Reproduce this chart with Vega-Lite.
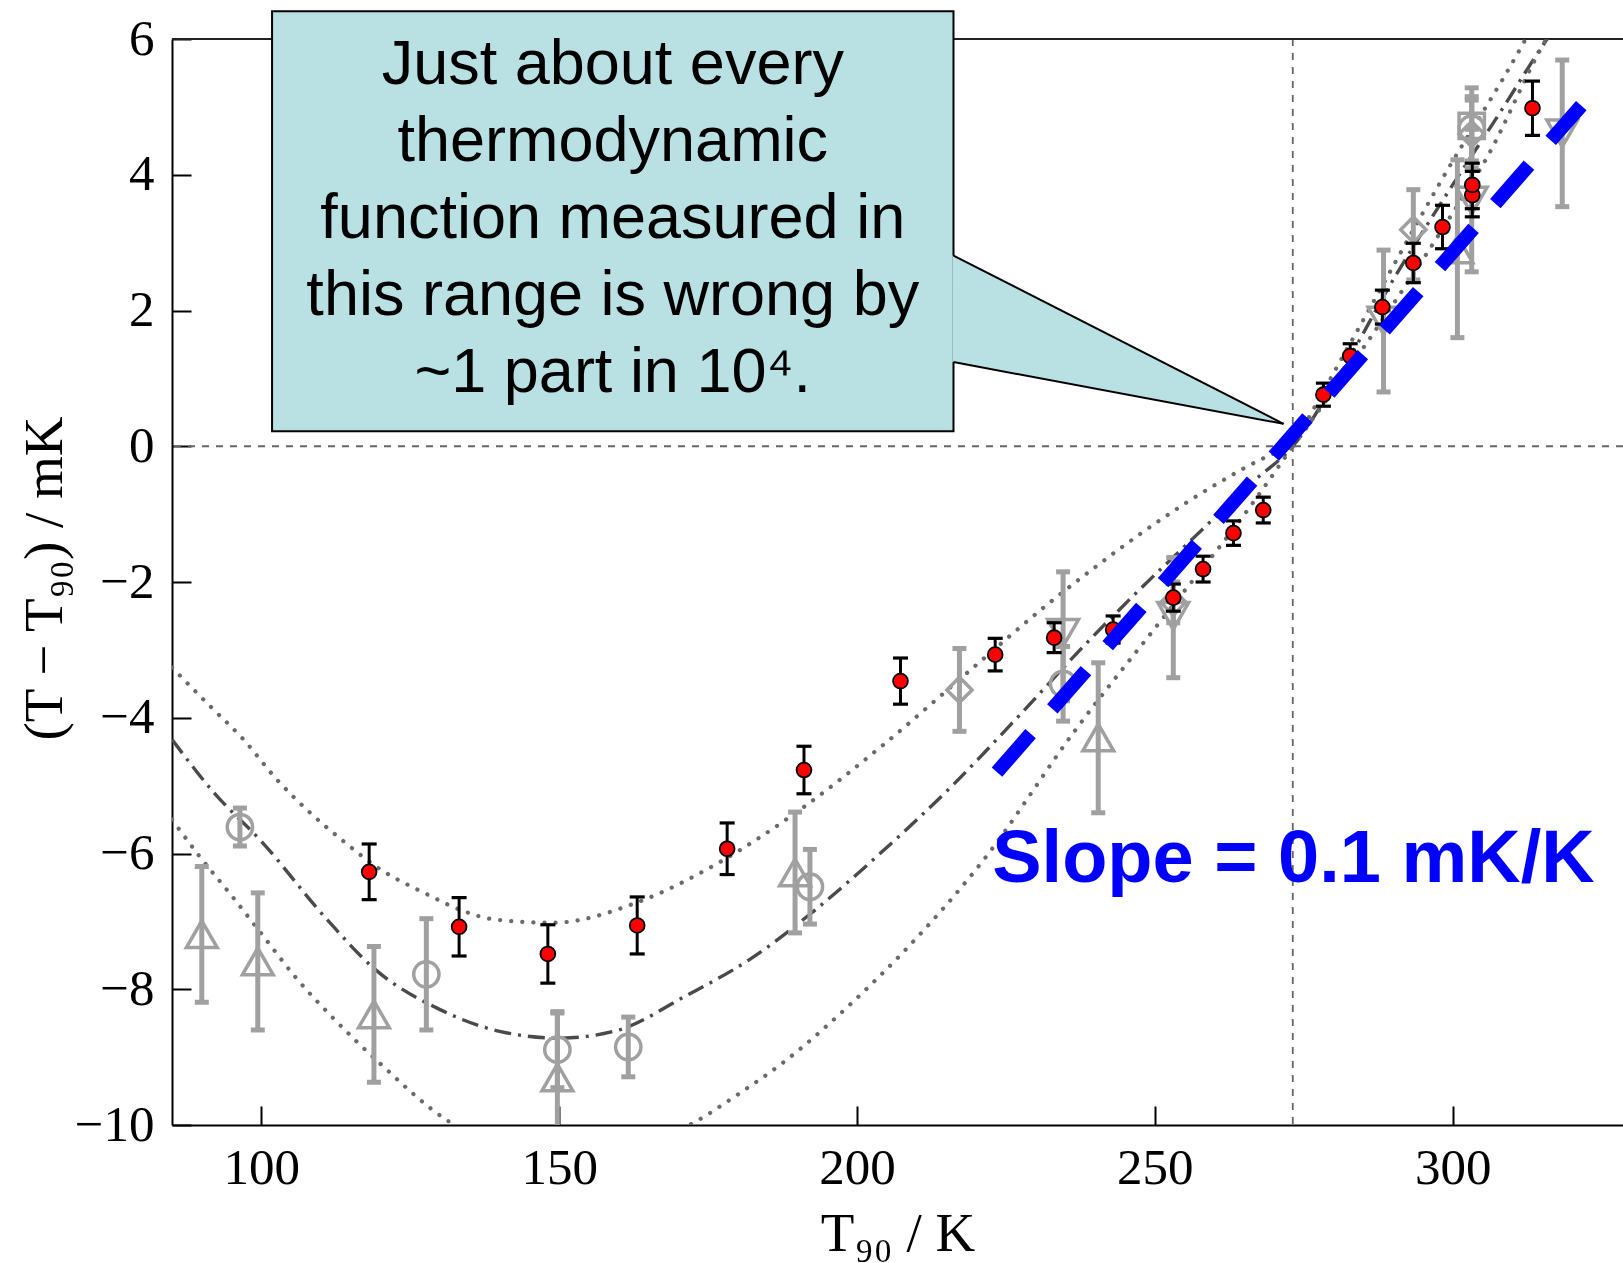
{
  "$schema": "https://vega.github.io/schema/vega-lite/v6.json",
  "width": 1451,
  "height": 1086,
  "autosize": {"type": "none"},
  "padding": {"left": 172, "top": 39, "right": 0, "bottom": 138},
  "background": "white",
  "data": {"values": [{"k": 1}]},
  "config": {
    "view": {"stroke": null},
    "axis": {
      "grid": false,
      "domainColor": "black",
      "domainWidth": 2,
      "tickColor": "black",
      "tickWidth": 2,
      "tickSize": -19,
      "labelFont": "Liberation Serif",
      "labelFontSize": 51,
      "labelColor": "black",
      "titleFont": "Liberation Serif",
      "titleFontSize": 55,
      "titleFontWeight": "normal",
      "titleColor": "black"
    }
  },
  "datasets": {
    "red": [
      {"x": 118.1, "y": -6.27, "lo": -6.68, "hi": -5.86},
      {"x": 133.2, "y": -7.08, "lo": -7.51, "hi": -6.65},
      {"x": 148.1, "y": -7.48, "lo": -7.91, "hi": -7.05},
      {"x": 163.1, "y": -7.06, "lo": -7.48, "hi": -6.64},
      {"x": 178.2, "y": -5.93, "lo": -6.31, "hi": -5.55},
      {"x": 191.1, "y": -4.77, "lo": -5.12, "hi": -4.42},
      {"x": 207.3, "y": -3.46, "lo": -3.8, "hi": -3.12},
      {"x": 223.2, "y": -3.07, "lo": -3.31, "hi": -2.83},
      {"x": 233.1, "y": -2.82, "lo": -3.04, "hi": -2.6},
      {"x": 243.0, "y": -2.7, "lo": -2.9, "hi": -2.5},
      {"x": 253.1, "y": -2.23, "lo": -2.43, "hi": -2.03},
      {"x": 258.1, "y": -1.81, "lo": -2.0, "hi": -1.62},
      {"x": 263.2, "y": -1.28, "lo": -1.46, "hi": -1.1},
      {"x": 268.2, "y": -0.94, "lo": -1.13, "hi": -0.75},
      {"x": 278.3, "y": 0.76, "lo": 0.59, "hi": 0.93},
      {"x": 282.8, "y": 1.33, "lo": 1.15, "hi": 1.51},
      {"x": 288.2, "y": 2.05, "lo": 1.8, "hi": 2.3},
      {"x": 293.4, "y": 2.7, "lo": 2.41, "hi": 2.99},
      {"x": 298.3, "y": 3.23, "lo": 2.91, "hi": 3.55},
      {"x": 303.3, "y": 3.7, "lo": 3.38, "hi": 4.05},
      {"x": 303.3, "y": 3.85, "lo": 3.5, "hi": 4.17},
      {"x": 313.4, "y": 4.98, "lo": 4.58, "hi": 5.38}
    ],
    "gray": [
      {"x": 96.4, "y": -5.61, "lo": -5.89, "hi": -5.33, "m": "circle"},
      {"x": 127.7, "y": -7.78, "lo": -8.6, "hi": -6.96, "m": "circle"},
      {"x": 149.7, "y": -8.89, "lo": -9.45, "hi": -8.33, "m": "circle"},
      {"x": 161.6, "y": -8.85, "lo": -9.29, "hi": -8.41, "m": "circle"},
      {"x": 192.1, "y": -6.49, "lo": -7.04, "hi": -5.94, "m": "circle"},
      {"x": 234.6, "y": -3.5, "lo": -4.05, "hi": -2.95, "m": "circle"},
      {"x": 303.2, "y": 4.68, "lo": 4.2, "hi": 5.15, "m": "circle"},
      {"x": 90.0, "y": -7.19, "lo": -8.19, "hi": -6.19, "m": "triangle-up"},
      {"x": 99.4, "y": -7.59, "lo": -8.6, "hi": -6.58, "m": "triangle-up"},
      {"x": 118.9, "y": -8.37, "lo": -9.37, "hi": -7.37, "m": "triangle-up"},
      {"x": 149.7, "y": -9.3, "lo": -10.4, "hi": -8.35, "m": "triangle-up"},
      {"x": 189.6, "y": -6.28, "lo": -7.17, "hi": -5.39, "m": "triangle-up"},
      {"x": 240.5, "y": -4.29, "lo": -5.4, "hi": -3.19, "m": "triangle-up"},
      {"x": 300.8, "y": 2.9, "lo": 1.6, "hi": 4.22, "m": "triangle-up"},
      {"x": 234.6, "y": -2.75, "lo": -3.75, "hi": -1.85, "m": "triangle-down"},
      {"x": 253.1, "y": -2.5, "lo": -3.41, "hi": -1.64, "m": "triangle-down"},
      {"x": 288.4, "y": 1.85, "lo": 0.8, "hi": 2.89, "m": "triangle-down"},
      {"x": 303.2, "y": 3.62, "lo": 2.57, "hi": 4.67, "m": "triangle-down"},
      {"x": 318.4, "y": 4.61, "lo": 3.53, "hi": 5.69, "m": "triangle-down"},
      {"x": 217.2, "y": -3.59, "lo": -4.2, "hi": -2.98, "m": "diamond"},
      {"x": 253.1, "y": -2.3, "lo": -2.6, "hi": -2.0, "m": "diamond"},
      {"x": 293.4, "y": 3.19, "lo": 2.45, "hi": 3.78, "m": "diamond"},
      {"x": 303.2, "y": 4.6, "lo": 4.1, "hi": 5.1, "m": "diamond"},
      {"x": 303.2, "y": 4.72, "lo": 4.2, "hi": 5.28, "m": "square"}
    ],
    "curves": [
      {"s": "fit", "x": 85, "y": -4.32}, {"s": "fit", "x": 92, "y": -5.1}, {"s": "fit", "x": 100, "y": -5.82},
      {"s": "fit", "x": 111, "y": -6.97}, {"s": "fit", "x": 119, "y": -7.7}, {"s": "fit", "x": 130, "y": -8.3},
      {"s": "fit", "x": 140, "y": -8.62}, {"s": "fit", "x": 150, "y": -8.72}, {"s": "fit", "x": 160, "y": -8.6},
      {"s": "fit", "x": 171, "y": -8.11}, {"s": "fit", "x": 182, "y": -7.56}, {"s": "fit", "x": 193, "y": -6.83},
      {"s": "fit", "x": 204, "y": -5.99}, {"s": "fit", "x": 216, "y": -5.0}, {"s": "fit", "x": 227, "y": -3.99},
      {"s": "fit", "x": 238, "y": -2.95}, {"s": "fit", "x": 247, "y": -2.15}, {"s": "fit", "x": 256.5, "y": -1.35},
      {"s": "fit", "x": 266.5, "y": -0.52}, {"s": "fit", "x": 273.16, "y": 0}, {"s": "fit", "x": 281, "y": 1.05},
      {"s": "fit", "x": 290, "y": 2.45}, {"s": "fit", "x": 300, "y": 3.85}, {"s": "fit", "x": 309, "y": 5.06},
      {"s": "fit", "x": 313, "y": 5.62}, {"s": "fit", "x": 317, "y": 6.15},
      {"s": "ul", "x": 85, "y": -3.26}, {"s": "ul", "x": 91.4, "y": -3.83}, {"s": "ul", "x": 97, "y": -4.32},
      {"s": "ul", "x": 102.6, "y": -4.91}, {"s": "ul", "x": 108.2, "y": -5.4}, {"s": "ul", "x": 113.8, "y": -5.82},
      {"s": "ul", "x": 119.4, "y": -6.2}, {"s": "ul", "x": 127.8, "y": -6.6}, {"s": "ul", "x": 133.4, "y": -6.83},
      {"s": "ul", "x": 139, "y": -6.97}, {"s": "ul", "x": 149, "y": -7.02}, {"s": "ul", "x": 163.1, "y": -6.72},
      {"s": "ul", "x": 176.5, "y": -6.15}, {"s": "ul", "x": 191.3, "y": -5.3}, {"s": "ul", "x": 204.4, "y": -4.4},
      {"s": "ul", "x": 219, "y": -3.3}, {"s": "ul", "x": 232.4, "y": -2.3}, {"s": "ul", "x": 240, "y": -1.78},
      {"s": "ul", "x": 249.2, "y": -1.19}, {"s": "ul", "x": 260.5, "y": -0.55}, {"s": "ul", "x": 268.9, "y": -0.15},
      {"s": "ul", "x": 273.16, "y": 0},
      {"s": "ll", "x": 85, "y": -5.5}, {"s": "ll", "x": 89.7, "y": -6.05}, {"s": "ll", "x": 95, "y": -6.62},
      {"s": "ll", "x": 100, "y": -7.18}, {"s": "ll", "x": 106, "y": -7.85}, {"s": "ll", "x": 112, "y": -8.42},
      {"s": "ll", "x": 120, "y": -9.1}, {"s": "ll", "x": 131, "y": -9.92}, {"s": "ll", "x": 140, "y": -10.32},
      {"s": "ll", "x": 150, "y": -10.47}, {"s": "ll", "x": 160, "y": -10.38}, {"s": "ll", "x": 172.5, "y": -9.97},
      {"s": "ll", "x": 180, "y": -9.55}, {"s": "ll", "x": 187.6, "y": -9.08}, {"s": "ll", "x": 198.9, "y": -8.22},
      {"s": "ll", "x": 207.8, "y": -7.45}, {"s": "ll", "x": 221.2, "y": -6.1}, {"s": "ll", "x": 236.5, "y": -4.2},
      {"s": "ll", "x": 252.1, "y": -2.45}, {"s": "ll", "x": 266, "y": -0.89}, {"s": "ll", "x": 273.16, "y": 0},
      {"s": "ur", "x": 273.16, "y": 0}, {"s": "ur", "x": 285, "y": 1.86}, {"s": "ur", "x": 298, "y": 3.9},
      {"s": "ur", "x": 311.7, "y": 5.91}, {"s": "ur", "x": 314, "y": 6.28},
      {"s": "lr", "x": 273.16, "y": 0}, {"s": "lr", "x": 285, "y": 1.45}, {"s": "lr", "x": 299.6, "y": 3.38},
      {"s": "lr", "x": 305.8, "y": 4.26}, {"s": "lr", "x": 314.7, "y": 5.84}, {"s": "lr", "x": 317, "y": 6.2}
    ],
    "slope": [
      {"x": 223.5, "y": -4.8},
      {"x": 321.6, "y": 5.02}
    ],
    "box": [
      {"x": 101.8, "x2": 216.2, "y": 0.22, "y2": 6.41,
       "label": "Just about every\nthermodynamic\nfunction measured in\nthis range is wrong by\n~1 part in 10⁴.", "tx": 159.0, "ty": 5.337}
    ],
    "pointer": [
      {"x": 216.0, "y": 1.24, "y2": 2.81},
      {"x": 271.6, "y": 0.33, "y2": 0.33}
    ],
    "edges": [
      {"x": 216.2, "y": 2.81, "x2": 271.6, "y2": 0.33},
      {"x": 216.2, "y": 1.24, "x2": 271.6, "y2": 0.33}
    ],
    "note": [
      {"x": 222.7, "y": -6.42, "label": "Slope = 0.1 mK/K"}
    ]
  },
  "layer": [
    {
      "mark": {"type": "rule", "color": "#666666", "strokeWidth": 1.8, "strokeDash": [7, 7]},
      "encoding": {
        "x": {"datum": 273.16, "type": "quantitative", "scale": {"domain": [85, 328.6], "nice": false, "zero": false}}
      }
    },
    {
      "mark": {"type": "rule", "color": "#666666", "strokeWidth": 1.8, "strokeDash": [7, 7]},
      "encoding": {
        "y": {"datum": 0, "type": "quantitative", "scale": {"domain": [-10, 6], "nice": false, "zero": false}}
      }
    },
    {
      "mark": {"type": "rule", "color": "#222222", "strokeWidth": 2},
      "encoding": {
        "y": {"datum": 6, "type": "quantitative", "scale": {"domain": [-10, 6], "nice": false, "zero": false}}
      }
    },
    {
      "data": {"name": "curves"},
      "transform": [{"filter": "datum.s === 'fit'"}],
      "mark": {"type": "line", "clip": true, "interpolate": "monotone", "color": "#4a4a4a", "strokeWidth": 3.4, "strokeDash": [17, 7, 3, 7]},
      "encoding": {
        "x": {"field": "x", "type": "quantitative", "scale": {"domain": [85, 328.6], "nice": false, "zero": false}},
        "y": {"field": "y", "type": "quantitative", "scale": {"domain": [-10, 6], "nice": false, "zero": false}},
        "order": {"field": "x", "type": "quantitative"}
      }
    },
    {
      "data": {"name": "curves"},
      "transform": [{"filter": "datum.s !== 'fit'"}],
      "mark": {"type": "line", "clip": true, "interpolate": "monotone", "color": "#6a6a6a", "strokeWidth": 4.2, "strokeCap": "round", "strokeDash": [0.1, 11]},
      "encoding": {
        "x": {"field": "x", "type": "quantitative", "scale": {"domain": [85, 328.6], "nice": false, "zero": false}},
        "y": {"field": "y", "type": "quantitative", "scale": {"domain": [-10, 6], "nice": false, "zero": false}},
        "detail": {"field": "s", "type": "nominal"},
        "order": {"field": "x", "type": "quantitative"}
      }
    },
    {
      "data": {"name": "gray"},
      "mark": {"type": "rule", "clip": true, "color": "#a0a0a0", "strokeWidth": 5},
      "encoding": {
        "x": {"field": "x", "type": "quantitative", "scale": {"domain": [85, 328.6], "nice": false, "zero": false}},
        "y": {"field": "lo", "type": "quantitative", "scale": {"domain": [-10, 6], "nice": false, "zero": false}},
        "y2": {"field": "hi"}
      }
    },
    {
      "data": {"name": "gray"},
      "mark": {"type": "tick", "clip": true, "orient": "horizontal", "color": "#a0a0a0", "size": 14, "thickness": 5, "opacity": 1},
      "encoding": {
        "x": {"field": "x", "type": "quantitative", "scale": {"domain": [85, 328.6], "nice": false, "zero": false}},
        "y": {"field": "lo", "type": "quantitative", "scale": {"domain": [-10, 6], "nice": false, "zero": false}}
      }
    },
    {
      "data": {"name": "gray"},
      "mark": {"type": "tick", "clip": true, "orient": "horizontal", "color": "#a0a0a0", "size": 14, "thickness": 5, "opacity": 1},
      "encoding": {
        "x": {"field": "x", "type": "quantitative", "scale": {"domain": [85, 328.6], "nice": false, "zero": false}},
        "y": {"field": "hi", "type": "quantitative", "scale": {"domain": [-10, 6], "nice": false, "zero": false}}
      }
    },
    {
      "data": {"name": "gray"},
      "transform": [{"filter": "datum.m === 'circle' || datum.m === 'diamond' || datum.m === 'square'"}],
      "mark": {"type": "point", "clip": true, "filled": false, "stroke": "#a0a0a0", "strokeWidth": 3.5, "size": 640, "opacity": 1},
      "encoding": {
        "x": {"field": "x", "type": "quantitative", "scale": {"domain": [85, 328.6], "nice": false, "zero": false}},
        "y": {"field": "y", "type": "quantitative", "scale": {"domain": [-10, 6], "nice": false, "zero": false}},
        "shape": {"field": "m", "type": "nominal", "scale": {"domain": ["circle", "triangle-up", "triangle-down", "diamond", "square"], "range": ["circle", "triangle-up", "triangle-down", "diamond", "square"]}, "legend": null}
      }
    },
    {
      "data": {"name": "gray"},
      "transform": [{"filter": "datum.m === 'triangle-up' || datum.m === 'triangle-down'"}],
      "mark": {"type": "point", "clip": true, "filled": false, "stroke": "#a0a0a0", "strokeWidth": 3.5, "size": 950, "opacity": 1},
      "encoding": {
        "x": {"field": "x", "type": "quantitative", "scale": {"domain": [85, 328.6], "nice": false, "zero": false}},
        "y": {"field": "y", "type": "quantitative", "scale": {"domain": [-10, 6], "nice": false, "zero": false}},
        "shape": {"field": "m", "type": "nominal", "scale": {"domain": ["circle", "triangle-up", "triangle-down", "diamond", "square"], "range": ["circle", "triangle-up", "triangle-down", "diamond", "square"]}, "legend": null}
      }
    },
    {
      "data": {"name": "red"},
      "mark": {"type": "rule", "color": "black", "strokeWidth": 3},
      "encoding": {
        "x": {"field": "x", "type": "quantitative", "scale": {"domain": [85, 328.6], "nice": false, "zero": false}},
        "y": {"field": "lo", "type": "quantitative", "scale": {"domain": [-10, 6], "nice": false, "zero": false}},
        "y2": {"field": "hi"}
      }
    },
    {
      "data": {"name": "red"},
      "mark": {"type": "tick", "orient": "horizontal", "color": "black", "size": 15, "thickness": 3.2, "opacity": 1},
      "encoding": {
        "x": {"field": "x", "type": "quantitative", "scale": {"domain": [85, 328.6], "nice": false, "zero": false}},
        "y": {"field": "lo", "type": "quantitative", "scale": {"domain": [-10, 6], "nice": false, "zero": false}}
      }
    },
    {
      "data": {"name": "red"},
      "mark": {"type": "tick", "orient": "horizontal", "color": "black", "size": 15, "thickness": 3.2, "opacity": 1},
      "encoding": {
        "x": {"field": "x", "type": "quantitative", "scale": {"domain": [85, 328.6], "nice": false, "zero": false}},
        "y": {"field": "hi", "type": "quantitative", "scale": {"domain": [-10, 6], "nice": false, "zero": false}}
      }
    },
    {
      "data": {"name": "red"},
      "mark": {"type": "point", "filled": true, "shape": "circle", "fill": "#ff0000", "stroke": "black", "strokeWidth": 1.8, "size": 220, "opacity": 1},
      "encoding": {
        "x": {"field": "x", "type": "quantitative", "scale": {"domain": [85, 328.6], "nice": false, "zero": false},
          "axis": {"values": [100, 150, 200, 250, 300], "format": "d", "labelPadding": 37, "title": "T₉₀  /  K", "titleBaseline": "alphabetic", "titleY": 125}},
        "y": {"field": "y", "type": "quantitative", "scale": {"domain": [-10, 6], "nice": false, "zero": false},
          "axis": {"values": [-10, -8, -6, -4, -2, 0, 2, 4, 6], "format": "d", "labelPadding": 37, "title": "(T − T₉₀)  /  mK", "titleX": -128, "titleY": 539, "titleAngle": -90, "titleBaseline": "middle", "titleAlign": "center"}}
      }
    },
    {
      "data": {"name": "slope"},
      "mark": {"type": "line", "color": "#0000ff", "strokeWidth": 14, "strokeDash": [51, 33], "strokeCap": "butt"},
      "encoding": {
        "x": {"field": "x", "type": "quantitative", "scale": {"domain": [85, 328.6], "nice": false, "zero": false}},
        "y": {"field": "y", "type": "quantitative", "scale": {"domain": [-10, 6], "nice": false, "zero": false}}
      }
    },
    {
      "data": {"name": "box"},
      "mark": {"type": "rect", "fill": "#b9e0e3", "stroke": "black", "strokeWidth": 2},
      "encoding": {
        "x": {"field": "x", "type": "quantitative", "scale": {"domain": [85, 328.6], "nice": false, "zero": false}},
        "x2": {"field": "x2"},
        "y": {"field": "y", "type": "quantitative", "scale": {"domain": [-10, 6], "nice": false, "zero": false}},
        "y2": {"field": "y2"}
      }
    },
    {
      "data": {"name": "pointer"},
      "mark": {"type": "area", "fill": "#b9e0e3", "opacity": 1, "strokeWidth": 0},
      "encoding": {
        "x": {"field": "x", "type": "quantitative", "scale": {"domain": [85, 328.6], "nice": false, "zero": false}},
        "y": {"field": "y", "type": "quantitative", "scale": {"domain": [-10, 6], "nice": false, "zero": false}},
        "y2": {"field": "y2"}
      }
    },
    {
      "data": {"name": "edges"},
      "mark": {"type": "rule", "color": "black", "strokeWidth": 2},
      "encoding": {
        "x": {"field": "x", "type": "quantitative", "scale": {"domain": [85, 328.6], "nice": false, "zero": false}},
        "x2": {"field": "x2"},
        "y": {"field": "y", "type": "quantitative", "scale": {"domain": [-10, 6], "nice": false, "zero": false}},
        "y2": {"field": "y2"}
      }
    },
    {
      "data": {"name": "box"},
      "mark": {"type": "text", "font": "Liberation Sans", "fontSize": 63, "lineHeight": 77, "lineBreak": "\n", "align": "center", "baseline": "alphabetic", "color": "black"},
      "encoding": {
        "x": {"field": "tx", "type": "quantitative", "scale": {"domain": [85, 328.6], "nice": false, "zero": false}},
        "y": {"field": "ty", "type": "quantitative", "scale": {"domain": [-10, 6], "nice": false, "zero": false}},
        "text": {"field": "label"}
      }
    },
    {
      "data": {"name": "note"},
      "mark": {"type": "text", "font": "Liberation Sans", "fontSize": 74, "fontWeight": "bold", "align": "left", "baseline": "alphabetic", "color": "#0000ff"},
      "encoding": {
        "x": {"field": "x", "type": "quantitative", "scale": {"domain": [85, 328.6], "nice": false, "zero": false}},
        "y": {"field": "y", "type": "quantitative", "scale": {"domain": [-10, 6], "nice": false, "zero": false}},
        "text": {"field": "label"}
      }
    }
  ]
}
